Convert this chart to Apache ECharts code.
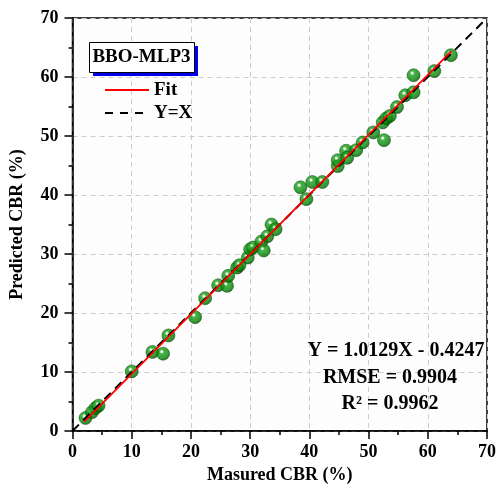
<!DOCTYPE html>
<html>
<head>
<meta charset="utf-8">
<script src="https://cdn.jsdelivr.net/npm/echarts@6/dist/echarts.min.js"></script>
<style>
html,body{margin:0;padding:0;background:#fff;}
#c{width:499px;height:495px;}
</style>
</head>
<body>
<div id="c"></div>
<script>
// ---- data ----
const measured = [2.2,3.3,3.9,4.4,10.0,13.5,15.3,16.2,20.7,22.4,24.6,26.1,26.3,27.8,28.2,29.6,30.0,30.5,31.9,32.3,32.9,33.6,34.3,38.5,39.5,40.5,42.2,44.8,44.8,46.2,46.4,47.9,49.0,50.8,52.6,52.4,53.0,53.6,54.8,56.2,57.6,57.6,61.1,63.9];
const predicted = [2.2,3.2,3.9,4.3,10.1,13.4,13.1,16.2,19.3,22.5,24.7,24.6,26.3,27.7,28.1,29.4,30.8,31.1,32.1,30.6,33.0,35.0,34.2,41.3,39.3,42.2,42.2,44.9,45.9,47.5,46.3,47.6,48.9,50.6,49.3,52.3,53.0,53.4,54.9,56.9,57.4,60.3,61.0,63.7];
const fitLine = [[2.0,1.6],[64.0,64.4]];
const identityLine = [[0,0],[70,70]];
const axisTicks = [0,10,20,30,40,50,60,70];
const statsText = ['Y = 1.0129X - 0.4247','RMSE = 0.9904','R\u00B2 = 0.9962'];
const modelName = 'BBO-MLP3';
const legendNames = ['Fit','Y=X'];

const points = measured.map((v,i)=>[v,predicted[i]]);
const FONT = '"Liberation Serif","Times New Roman",serif';

const chart = echarts.init(document.getElementById('c'));
const axisCommon = {
  min: axisTicks[0], max: axisTicks[axisTicks.length-1], interval: 10,
  axisLine:{show:true,onZero:false,lineStyle:{color:'#000',width:1.5}},
  axisTick:{show:true,inside:false,length:8,lineStyle:{color:'#000',width:1.5}},
  minorTick:{show:true,splitNumber:2,length:4,lineStyle:{color:'#000',width:1.5}},
  splitLine:{show:true,lineStyle:{color:'#cccccc',type:[5,4],width:1}},
  axisLabel:{color:'#000',fontFamily:FONT,fontWeight:'bold',fontSize:18},
  nameTextStyle:{color:'#000',fontFamily:FONT,fontWeight:'bold',fontSize:18},
  nameLocation:'middle'
};
chart.setOption({
  animation:false,
  backgroundColor:'#fff',
  grid:{left:72.5,right:9,top:18,bottom:64,show:true,borderColor:'#000',borderWidth:1.5,backgroundColor:'#fdfdfd'},
  xAxis:Object.assign({},axisCommon,{type:'value',name:'Masured CBR (%)',nameGap:34,
    axisLabel:Object.assign({},axisCommon.axisLabel,{margin:12})}),
  yAxis:Object.assign({},axisCommon,{type:'value',name:'Predicted CBR (%)',nameGap:46,
    axisLabel:Object.assign({},axisCommon.axisLabel,{margin:14})}),
  series:[
    {type:'scatter',data:points,symbolSize:13,z:2,
      itemStyle:{
        color:{type:'radial',x:0.4,y:0.35,r:0.68,colorStops:[
          {offset:0,color:'#ffffff'},{offset:0.1,color:'#d4efd4'},
          {offset:0.24,color:'#1e9e1e'},{offset:0.65,color:'#078a07'},{offset:1,color:'#004f00'}]},
        borderColor:'#034a03',borderWidth:0.6}},
    {type:'line',name:legendNames[1],data:identityLine,showSymbol:false,z:3,
      lineStyle:{color:'#000',width:2,type:[9,6]}},
    {type:'line',name:legendNames[0],data:fitLine,showSymbol:false,z:4,
      lineStyle:{color:'#ff0000',width:1.8}}
  ],
  graphic:[
    {type:'rect',left:93,top:46,shape:{width:105,height:30},style:{fill:'#0000ee'},z:10},
    {type:'rect',left:89,top:42,shape:{width:105,height:30},style:{fill:'#fff',stroke:'#000',lineWidth:1},z:11},
    {type:'text',x:141.5,y:57,style:{text:modelName,font:'bold 19px '+FONT,fill:'#000',align:'center',verticalAlign:'middle'},z:12},
    {type:'line',shape:{x1:105,y1:90,x2:149,y2:90},style:{stroke:'#ff0000',lineWidth:1.8},z:12},
    {type:'text',x:154,y:90,style:{text:legendNames[0],font:'bold 19px '+FONT,fill:'#000',verticalAlign:'middle'},z:12},
    {type:'line',shape:{x1:105,y1:113,x2:149,y2:113},style:{stroke:'#000',lineWidth:2,lineDash:[8,7]},z:12},
    {type:'text',x:154,y:113,style:{text:legendNames[1],font:'bold 19px '+FONT,fill:'#000',verticalAlign:'middle'},z:12},
    {type:'text',x:396,y:351,style:{text:statsText[0],font:'bold 20px '+FONT,fill:'#000',align:'center',verticalAlign:'middle'},z:12},
    {type:'text',x:390,y:378,style:{text:statsText[1],font:'bold 20px '+FONT,fill:'#000',align:'center',verticalAlign:'middle'},z:12},
    {type:'text',x:390,y:404,style:{text:statsText[2],font:'bold 20px '+FONT,fill:'#000',align:'center',verticalAlign:'middle'},z:12}
  ]
});
</script>
</body>
</html>
